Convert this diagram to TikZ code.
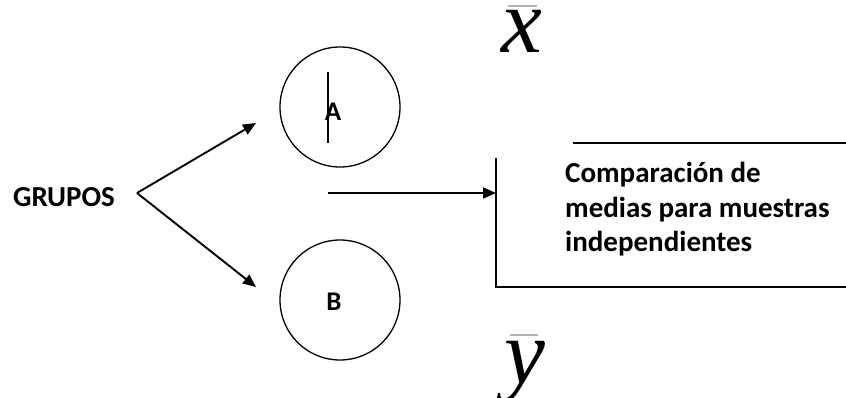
\documentclass[tikz,border=0pt]{standalone}
\usepackage{fontspec}
\setmainfont{Carlito}
\newfontfamily\mediafont{Liberation Serif}
\usetikzlibrary{arrows.meta,positioning}

\begin{document}
\begin{tikzpicture}[x=1pt, y=-1pt,
  grupo/.style={circle, draw, line width=1.3pt, minimum size=120pt, inner sep=0pt},
  letra/.style={font=\fontsize{27}{30}\selectfont\bfseries},
  etiqueta/.style={inner sep=0pt, font=\fontsize{29}{34.5}\selectfont\bfseries},
  flecha/.style={-{Triangle[length=13pt,width=11pt]}, line width=1.9pt},
  borde/.style={line width=1.5pt},
  media/.style={inner sep=0pt, text height=0.46em, text depth=0pt, font=\fontsize{92}{92}\selectfont\mediafont\itshape}]
  \useasboundingbox (0,0) rectangle (846,398);

  % grupos y circulos
  \node[etiqueta] (grupos) at (64,197) {GRUPOS};
  \node[grupo, label={[letra, xshift=-7pt, yshift=-5pt]center:A}] (ga) at (340,107) {};
  \node[grupo, label={[letra, xshift=-6pt, yshift=-2pt]center:B}] (gb) at (340,300) {};
  \draw[line width=1.1pt] (ga.center) ++(-12,-35) -- ++(0,71);

  % medias
  \node[media, anchor=base] (mx) at (522,53) {x};
  \node[media, anchor=base] (my) at (525,383) {y};
  \draw[gray!60, line width=1.4pt] (508,6) -- (537,6);
  \draw[gray!60, line width=1.4pt] (510,335) -- (538,335);

  % flechas
  \coordinate (fork) at (137,193);
  \coordinate (tipa) at (256,123);
  \coordinate (tipb) at (256,287);
  \draw[flecha] (fork) -- (tipa);
  \draw[flecha] (fork) -- (tipb);

  % recuadro
  \coordinate (inicio) at (328,193);
  \coordinate (boxin) at (496,193);
  \draw[flecha] (inicio) -- (boxin);
  \draw[borde] (496,158) -- (496,287) -- (846,287);
  \draw[borde] (573,143) -- (846,143);
  \node[etiqueta, anchor=north west, align=left] (comp) at (565,162)
    {Comparación de\\medias para muestras\\independientes};
\end{tikzpicture}
\end{document}
